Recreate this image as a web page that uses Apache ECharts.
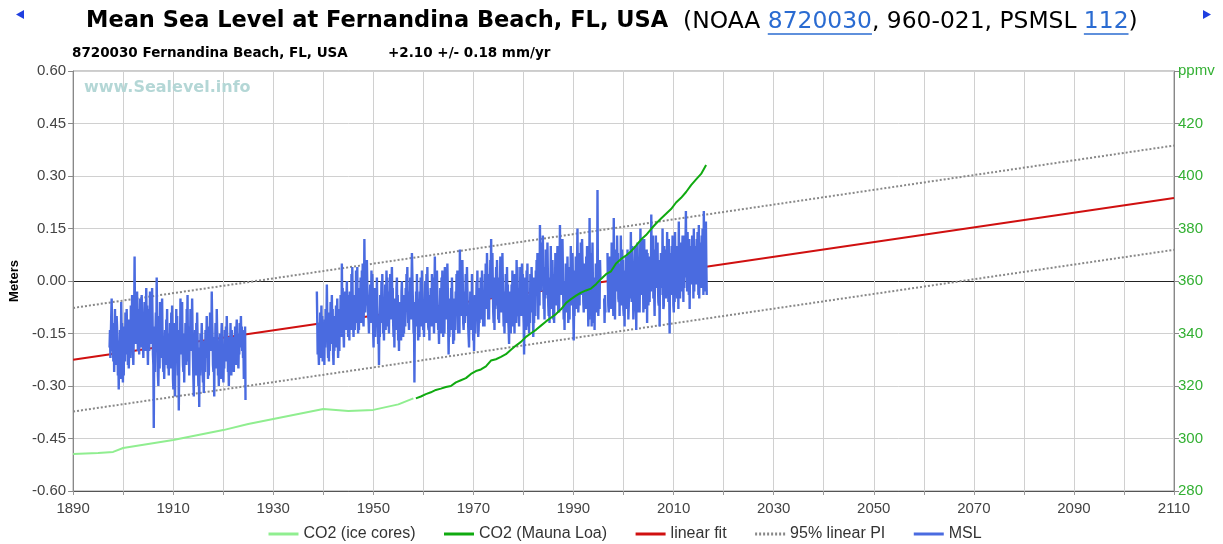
<!DOCTYPE html>
<html><head><meta charset="utf-8">
<script src="https://cdn.jsdelivr.net/npm/echarts@6/dist/echarts.min.js"></script>
<style>html,body{margin:0;padding:0;background:#fff}#c{width:1223px;height:544px}</style>
</head><body><div id="c"></div>
<script>
// ---------------- data ----------------
const co2IceYears = [1890, 1895, 1898, 1900, 1905, 1910, 1915, 1920, 1925, 1930, 1935, 1940, 1945, 1950, 1955, 1958];
const co2IceVals  = [294.1, 294.5, 294.9, 296.4, 297.9, 299.4, 301.3, 303.2, 305.5, 307.4, 309.3, 311.2, 310.5, 310.9, 313.0, 315.3];

const mloYears = [1958.5,1959.5,1960.5,1961.5,1962.5,1963.5,1964.5,1965.5,1966.5,1967.5,1968.5,1969.5,1970.5,1971.5,1972.5,1973.5,1974.5,1975.5,1976.5,1977.5,1978.5,1979.5,1980.5,1981.5,1982.5,1983.5,1984.5,1985.5,1986.5,1987.5,1988.5,1989.5,1990.5,1991.5,1992.5,1993.5,1994.5,1995.5,1996.5,1997.5,1998.5,1999.5,2000.5,2001.5,2002.5,2003.5,2004.5,2005.5,2006.5,2007.5,2008.5,2009.5,2010.5,2011.5,2012.5,2013.5,2014.5,2015.5,2016.5];
const mloVals  = [315.3,316.0,316.9,317.6,318.5,319.0,319.6,320.0,321.4,322.2,323.0,324.6,325.7,326.3,327.5,329.7,330.2,331.1,332.1,333.8,335.4,336.8,338.7,340.1,341.4,343.0,344.6,346.0,347.4,349.2,351.6,353.1,354.4,355.6,356.4,357.1,358.8,360.8,362.6,363.7,366.7,368.4,369.7,371.3,373.5,375.8,377.5,379.8,381.9,383.8,385.6,387.4,389.9,391.7,393.9,396.5,398.7,400.8,404.2];

const fitYears = [1890, 2110];
const fitVals  = [-0.225, 0.237];
const piUpperVals = [-0.077, 0.387];
const piLowerVals = [-0.373, 0.089];

// MSL monthly means (m); null = no data
const msl1Start = 1897.29;   // Apr 1897
const msl1Vals = [
 -0.19,-0.14,-0.22,-0.16,-0.10,-0.05,-0.13,-0.20,-0.17,
 -0.23,-0.12,-0.26,-0.19,-0.08,-0.21,-0.15,-0.24,-0.10,-0.13,-0.18,-0.27,
 -0.22,-0.31,-0.17,-0.25,-0.14,-0.28,-0.20,-0.06,-0.16,-0.12,-0.24,-0.29,
 -0.20,-0.27,-0.13,-0.18,-0.23,-0.09,-0.17,-0.21,-0.08,-0.14,-0.11,-0.24,
 -0.18,-0.25,-0.20,-0.11,-0.17,-0.22,-0.07,-0.15,-0.19,-0.04,-0.13,-0.21,
 -0.24,-0.16,-0.09, 0.07,-0.12,-0.18,-0.14,-0.06,-0.11,-0.03,-0.15,-0.20,
 -0.17,-0.08,-0.21,-0.13,-0.05,-0.16,-0.10,-0.19,-0.04,-0.09,-0.14,-0.18,
 -0.22,-0.11,-0.17,-0.06,-0.15,-0.20,-0.09,-0.02,-0.13,-0.07,-0.18,-0.24,
 -0.16,-0.08,-0.20,-0.12,-0.03,-0.15,-0.18,-0.07,-0.11,-0.02,-0.10,-0.21,
 -0.24,-0.42,-0.19,-0.13,-0.26,-0.15,-0.09,-0.20, 0.01,-0.12,-0.17,-0.27,
 -0.30,-0.21,-0.10,-0.25,-0.06,-0.18,-0.14,-0.22,-0.09,-0.05,-0.16,-0.23,
 -0.26,-0.18,-0.28,-0.21,-0.14,-0.24,-0.19,-0.11,-0.16,-0.08,-0.20,-0.25,
 -0.22,-0.27,-0.15,-0.20,-0.12,-0.25,-0.17,-0.09,-0.21,-0.07,-0.14,-0.28,
 -0.31,-0.19,-0.26,-0.12,-0.33,-0.17,-0.22,-0.08,-0.15,-0.10,-0.21,-0.27,
 -0.20,-0.37,-0.23,-0.14,-0.18,-0.05,-0.21,-0.16,-0.11,-0.06,-0.19,-0.24,
 -0.26,-0.15,-0.29,-0.18,-0.22,-0.12,-0.17,-0.24,-0.08,-0.14,-0.04,-0.21,
 -0.23,-0.17,-0.27,-0.13,-0.19,-0.08,-0.20,-0.11,-0.16,-0.05,-0.14,-0.22,
 -0.28,-0.33,-0.18,-0.24,-0.14,-0.21,-0.27,-0.12,-0.19,-0.09,-0.16,-0.25,
 -0.30,-0.24,-0.36,-0.19,-0.27,-0.15,-0.23,-0.20,-0.12,-0.17,-0.26,-0.29,
 -0.25,-0.32,-0.21,-0.17,-0.26,-0.14,-0.22,-0.18,-0.10,-0.15,-0.19,-0.28,
 -0.22,-0.27,-0.13,-0.19,-0.09,-0.18,-0.14,-0.20,-0.03,-0.11,-0.16,-0.24,
 -0.26,-0.20,-0.33,-0.16,-0.22,-0.12,-0.19,-0.25,-0.08,-0.14,-0.17,-0.27,
 -0.24,-0.30,-0.18,-0.26,-0.15,-0.22,-0.28,-0.16,-0.12,-0.19,-0.21,-0.27,
 -0.29,-0.21,-0.25,-0.14,-0.19,-0.23,-0.13,-0.20,-0.10,-0.15,-0.18,-0.26,
 -0.23,-0.30,-0.20,-0.16,-0.24,-0.12,-0.21,-0.27,-0.14,-0.17,-0.22,-0.25,
 -0.21,-0.26,-0.16,-0.22,-0.13,-0.19,-0.24,-0.14,-0.11,-0.18,-0.15,-0.23,
 -0.25,-0.18,-0.21,-0.12,-0.19,-0.15,-0.10,-0.17,-0.13,-0.20,-0.14,-0.22,
 -0.19,-0.28,-0.15,-0.21,-0.13,-0.34
];
const msl2Start = 1938.71;   // Sep 1938
const msl2Vals = [
 -0.03,-0.11,-0.21,-0.15,
 -0.20,-0.24,-0.12,-0.18,-0.09,-0.22,-0.14,-0.07,-0.17,-0.10,-0.23,-0.16,
 -0.21,-0.15,-0.24,-0.11,-0.19,-0.08,-0.16,-0.13,-0.01,-0.10,-0.18,-0.22,
 -0.17,-0.23,-0.09,-0.20,-0.14,-0.06,-0.18,-0.11,-0.04,-0.13,-0.08,-0.21,
 -0.24,-0.16,-0.20,-0.10,-0.18,-0.13,-0.07,-0.19,-0.11,-0.05,-0.15,-0.22,
 -0.18,-0.12,-0.20,-0.08,-0.14,-0.04,-0.11,-0.16, 0.05,-0.07,-0.02,-0.13,
 -0.15,-0.19,-0.06,-0.12,-0.03,-0.10,-0.14,-0.05, 0.00,-0.09,-0.04,-0.16,
 -0.13,-0.08,-0.17,-0.03,-0.11,-0.06,-0.14, 0.02,-0.08, 0.04,-0.05,-0.12,
 -0.16,-0.10,-0.04,-0.14,-0.07,-0.12, 0.03,-0.09,-0.02, 0.04,-0.11,-0.15,
 -0.09,-0.14,-0.02,-0.10,-0.05, 0.01,-0.08,-0.12, 0.03,-0.03, 0.05,-0.11,
 -0.13,-0.06, 0.12,-0.02,-0.09,-0.04, 0.02,-0.07, 0.06,-0.01,-0.05,-0.10,
 -0.11,-0.15,-0.04,-0.09,-0.01,-0.12,-0.06, 0.03,-0.08, 0.02,-0.03,-0.14,
 -0.19,-0.08,-0.13,-0.02,-0.16,-0.10,-0.05,-0.12, 0.01,-0.07,-0.11,-0.18,
 -0.14,-0.24,-0.10,-0.16,-0.04,-0.12,-0.08, 0.00,-0.09, 0.02,-0.06,-0.15,
 -0.12,-0.17,-0.05,-0.10,-0.01,-0.14,-0.07, 0.03,-0.04, 0.01,-0.09,-0.13,
 -0.10,-0.15,-0.03,-0.08, 0.02,-0.11,-0.06,-0.01, 0.04,-0.05,-0.02,-0.12,
 -0.16,-0.09,-0.19,-0.05,-0.12,-0.07,-0.14,-0.02, 0.01,-0.10,-0.04,-0.17,
 -0.13,-0.20,-0.08,-0.15,-0.06,-0.11,-0.17,-0.03, 0.00,-0.09,-0.05,-0.16,
 -0.11,-0.15,-0.04,-0.09,-0.13,-0.02,-0.07, 0.02,-0.05, 0.04,-0.08,-0.12,
 -0.10,-0.14,-0.03,-0.08, 0.01,-0.06,-0.11,-0.01, 0.08, 0.02,-0.04,-0.09,
 -0.15,-0.10,-0.29,-0.12,-0.06,-0.13,-0.03,-0.08, 0.02,-0.05,-0.11,-0.17,
 -0.12,-0.08,-0.16,-0.03,-0.10, 0.01,-0.06,-0.13, 0.03,-0.02,-0.07,-0.14,
 -0.11,-0.16,-0.06,-0.09, 0.00,-0.12,-0.04, 0.02,-0.08, 0.04,-0.03,-0.13,
 -0.14,-0.09,-0.17,-0.04,-0.11,-0.02,-0.08,-0.13, 0.02,-0.05, 0.01,-0.12,
 -0.10,-0.15,-0.03, 0.07,-0.08,-0.12,-0.01,-0.06, 0.03,-0.04,-0.09,-0.14,
 -0.13,-0.18,-0.07,-0.11,-0.02,-0.15,-0.09, 0.01,-0.05, 0.03,-0.10,-0.16,
 -0.12,-0.07,-0.15, 0.04,-0.09,-0.03,-0.11, 0.02,-0.06, 0.05,-0.02,-0.13,
 -0.21,-0.12,-0.16,-0.05,-0.10,-0.14,-0.02,-0.09, 0.01,-0.06,-0.11,-0.18,
 -0.13,-0.17,-0.05,-0.10,-0.14,-0.03,-0.08, 0.02,-0.05, 0.03,-0.09,-0.15,
 -0.11,-0.06,-0.15, 0.09,-0.07,-0.02,-0.10, 0.01,-0.04, 0.06,-0.01,-0.12,
 -0.14,-0.09,-0.03,-0.12,-0.06, 0.02,-0.10,-0.04, 0.04,-0.02,-0.08,-0.13,
 -0.16,-0.19,-0.08,-0.12,-0.03,-0.14,-0.06,-0.10, 0.02,-0.04,-0.09,-0.17,
 -0.13,-0.20,-0.09,-0.04,-0.15,-0.07,-0.11, 0.00,-0.06, 0.03,-0.10,-0.16,
 -0.14,-0.08,-0.12,-0.02,-0.09, 0.01,-0.06,-0.11, 0.03,-0.03,-0.07,-0.13,
 -0.10,-0.05,-0.13, 0.02,-0.07, 0.05,-0.03,-0.08, 0.08, 0.01,-0.04,-0.11,
 -0.07,-0.11, 0.02,-0.04, 0.06,-0.02, 0.12,-0.05, 0.03, 0.08,-0.01,-0.09,
 -0.12,-0.06,-0.14, 0.01,-0.08,-0.03, 0.04,-0.07, 0.06,-0.01,-0.05,-0.11,
 -0.08,-0.12, 0.01,-0.05, 0.07,-0.03,-0.09, 0.03,-0.02, 0.08, 0.00,-0.07,
 -0.13,-0.08,-0.15,-0.03,-0.10, 0.02,-0.06,-0.12, 0.04,-0.04,-0.01,-0.11,
 -0.14,-0.18,-0.06,-0.12,-0.03,-0.15,-0.08,-0.01,-0.10, 0.03,-0.05,-0.13,
 -0.11,-0.07,-0.15, 0.02,-0.08,-0.03,-0.12, 0.06,-0.02, 0.04,-0.06,-0.10,
 -0.09,-0.13,-0.02,-0.07, 0.04,-0.05,-0.10, 0.01, 0.05,-0.03, 0.02,-0.08,
 -0.12,-0.21,-0.06,-0.10, 0.01,-0.08,-0.14, 0.03,-0.04, 0.05,-0.07,-0.13,
 -0.10,-0.15,-0.04,-0.12, 0.02,-0.07,-0.09, 0.04,-0.03, 0.01,-0.08,-0.16,
 -0.09,-0.12, 0.01,-0.06,-0.10, 0.03,-0.04, 0.06,-0.01, 0.08,-0.02,-0.11,
 -0.04, 0.06,-0.07, 0.16, 0.02,-0.03, 0.08, 0.00, 0.11, 0.05, 0.13,-0.02,
 -0.08,-0.03,-0.11, 0.04,-0.05, 0.09,-0.01, 0.06,-0.04, 0.11, 0.02,-0.07,
 -0.10,-0.05,-0.12, 0.01,-0.07, 0.10,-0.03, 0.04,-0.08, 0.06,-0.01,-0.11,
 -0.06,-0.12, 0.02,-0.04, 0.08,-0.02, 0.05,-0.07, 0.03, 0.10,-0.01,-0.09,
 -0.05,-0.09, 0.03, 0.16,-0.02, 0.06,-0.04, 0.09, 0.01, 0.12, 0.04,-0.06,
 -0.11,-0.06,-0.14, 0.00,-0.08, 0.05,-0.04, 0.02,-0.09, 0.07,-0.02,-0.12,
 -0.08,-0.03,-0.11, 0.04,-0.06, 0.10,-0.02, 0.05,-0.07, 0.08, 0.01,-0.10,
 -0.17,-0.06,-0.10, 0.03,-0.04, 0.07,-0.08, 0.02, 0.06, 0.15,-0.01,-0.09,
 -0.05, 0.04,-0.07, 0.08,-0.02, 0.11, 0.01,-0.04, 0.12, 0.06, 0.03,-0.06,
 -0.09,-0.03, 0.05,-0.06, 0.02,-0.08, 0.07,-0.01, 0.10, 0.04,-0.04,-0.13,
 -0.07,-0.11, 0.18,-0.03, 0.04,-0.05, 0.08,-0.13, 0.02, 0.11,-0.01,-0.08,
 -0.12,-0.04,-0.14, 0.01,-0.07, 0.05,-0.03, 0.03,-0.09, 0.26, 0.02,-0.10,
 -0.05, 0.03,-0.08, 0.06, 0.01, null, null, null, null, null, null, null,
  null,-0.05,-0.12,-0.04,-0.09, null, null, null, null, 0.08,-0.02,-0.07,
 -0.09, 0.02,-0.05, 0.07,-0.03, 0.04,-0.08, 0.11, 0.00, 0.06,-0.04,-0.10,
  0.18,-0.02, 0.05,-0.11, 0.07, 0.01, 0.09,-0.03, 0.13, 0.04, 0.08,-0.05,
 -0.06, 0.02,-0.10, 0.05,-0.03, 0.13, 0.00,-0.07, 0.09, 0.03, 0.06,-0.08,
 -0.10,-0.04,-0.13, 0.03,-0.06, 0.07,-0.02, 0.04,-0.08, 0.09, 0.00,-0.11,
 -0.07, 0.03,-0.05, 0.08,-0.02, 0.14, 0.01,-0.06, 0.10, 0.05,-0.01,-0.11,
 -0.08, 0.04,-0.03, 0.10,-0.06, 0.02,-0.14, 0.06, 0.00, 0.11, 0.03,-0.09,
 -0.05, 0.06,-0.09, 0.03, 0.15,-0.02, 0.07, 0.01,-0.04, 0.12, 0.04,-0.09,
 -0.06, 0.12,-0.04, 0.05,-0.08, 0.02,-0.02, 0.09,-0.12, 0.08, 0.03,-0.07,
 -0.04, 0.04,-0.06, 0.07, 0.01,-0.03, 0.19, 0.05, 0.10, 0.02, 0.13,-0.05,
  0.09,-0.04,-0.10, 0.06, 0.01, 0.13,-0.02, 0.08, 0.03, 0.11,-0.01,-0.06,
 -0.07, 0.06,-0.13, 0.03,-0.04, 0.08, 0.00, 0.05,-0.02, 0.15, 0.04,-0.08,
 -0.07, 0.10,-0.04, 0.06, 0.02,-0.05, 0.09, 0.01, 0.14, 0.04, 0.07,-0.06,
  0.12,-0.03,-0.15, 0.04,-0.01, 0.08, 0.02, 0.10,-0.04, 0.13, 0.05,-0.07,
 -0.09, 0.03,-0.06, 0.14,-0.02, 0.05, 0.00, 0.07,-0.05, 0.10, 0.02,-0.08,
  0.17,-0.02, 0.06,-0.05, 0.09, 0.01, 0.11,-0.03, 0.08, 0.13, 0.04,-0.06,
  0.13,-0.02, 0.07, 0.01, 0.10, 0.20, 0.04, 0.09,-0.03, 0.14, 0.06, 0.00,
 -0.04, 0.12,-0.08, 0.07, 0.02, 0.10,-0.01, 0.05, 0.13, 0.03, 0.09,-0.05,
  0.15,-0.03, 0.08, 0.02, 0.10,-0.01, 0.06, 0.12, 0.03, 0.14, 0.05,-0.04,
  0.16,-0.05, 0.08, 0.02, 0.11,-0.02, 0.07, 0.13, 0.04, 0.15, 0.06,-0.04,
  0.20, 0.03, 0.14,-0.03, 0.10, 0.17, 0.05,-0.04
];

const titleBold = 'Mean Sea Level at Fernandina Beach, FL, USA';
const titleParts = ['  (NOAA ', '8720030', ', 960-021, PSMSL ', '112', ')'];
const subLeft = '8720030 Fernandina Beach, FL, USA';
const subRight = '+2.10 +/- 0.18 mm/yr';
const watermark = 'www.Sealevel.info';
const legendNames = ['CO2 (ice cores)', 'CO2 (Mauna Loa)', 'linear fit', '95% linear PI', 'MSL'];

// ---------------- build ----------------
const zip = (xs, ys) => xs.map((x, i) => [x, ys[i]]);
const mslData = [];
msl1Vals.forEach((v, i) => mslData.push([msl1Start + i / 12, v === null ? '-' : v]));
mslData.push([1931, '-']);
msl2Vals.forEach((v, i) => mslData.push([msl2Start + i / 12, v === null ? '-' : v]));

const ctx = document.createElement('canvas').getContext('2d');
const tw = (font, s) => { ctx.font = font; return ctx.measureText(s).width; };
const TF = '"DejaVu Sans"';
const bSize = 22.5, nSize = 23.4;
const fB = 'bold ' + bSize + 'px ' + TF, fN = 'normal ' + nSize + 'px ' + TF;
const tLeft = 86;
let ux = tLeft + tw(fB, titleBold) + tw(fN, titleParts[0]);
const u1 = [ux, ux + tw(fN, titleParts[1])];
ux = u1[1] + tw(fN, titleParts[2]);
const u2 = [ux, ux + tw(fN, titleParts[3])];
const uY = 34;

const axisFont = 'Liberation Sans';
const ySplitColors = ['#d0d0d0','#d0d0d0','#d0d0d0','#d0d0d0','#222','#d0d0d0','#d0d0d0','#d0d0d0','#d0d0d0'];
const linkColor = '#2a6bd1';

const chart = echarts.init(document.getElementById('c'), null, {renderer: 'canvas'});
chart.setOption({
  animation: false,
  backgroundColor: '#fff',
  title: [{
    text: '{b|' + titleBold + '}{n|' + titleParts[0] + '}{l|' + titleParts[1] + '}{n|' + titleParts[2] + '}{l|' + titleParts[3] + '}{n|' + titleParts[4] + '}',
    left: tLeft, top: 10, padding: 0,
    textStyle: { rich: {
      b: { fontFamily: TF, fontWeight: 'bold', fontSize: bSize, color: '#000' },
      n: { fontFamily: TF, fontWeight: 'normal', fontSize: nSize, color: '#000' },
      l: { fontFamily: TF, fontWeight: 'normal', fontSize: nSize, color: linkColor }
    }}
  }, {
    text: subLeft, left: 72, top: 46, padding: 0,
    textStyle: { fontFamily: TF, fontWeight: 'bold', fontSize: 13.5, color: '#000' }
  }, {
    text: subRight, left: 388, top: 46, padding: 0,
    textStyle: { fontFamily: TF, fontWeight: 'bold', fontSize: 13.5, color: '#000' }
  }, {
    text: watermark, left: 84, top: 80, padding: 0,
    textStyle: { fontFamily: TF, fontWeight: 'bold', fontSize: 16, color: '#b4d7d6' }
  }],
  graphic: [
    { type: 'polygon', shape: { points: [[24, 10], [24, 19], [16, 14.5]] }, style: { fill: '#1f3fe0' } },
    { type: 'polygon', shape: { points: [[1203, 10], [1203, 19], [1211, 14.5]] }, style: { fill: '#1f3fe0' } },
    { type: 'line', shape: { x1: u1[0], y1: uY, x2: u1[1], y2: uY }, style: { stroke: linkColor, lineWidth: 1.3 } },
    { type: 'line', shape: { x1: u2[0], y1: uY, x2: u2[1], y2: uY }, style: { stroke: linkColor, lineWidth: 1.3 } }
  ],
  legend: {
    data: legendNames,
    left: 262, top: 521,
    itemWidth: 30, itemHeight: 12, itemGap: 27,
    itemStyle: { opacity: 0 },
    lineStyle: { width: 3 },
    textStyle: { fontFamily: axisFont, fontSize: 16, color: '#333' }
  },
  grid: { left: 72, right: 49, top: 71, bottom: 53, show: true, borderColor: '#999', borderWidth: 1, backgroundColor: 'transparent' },
  xAxis: {
    type: 'value', min: 1890, max: 2110, interval: 10,
    axisLine: { show: true, onZero: false, lineStyle: { color: '#555' } },
    axisTick: { show: true, length: 4, lineStyle: { color: '#999' } },
    splitLine: { show: true, lineStyle: { color: '#d0d0d0', width: 1 } },
    axisLabel: { fontFamily: axisFont, fontSize: 15, color: '#444', margin: 10,
      formatter: v => ((v - 1890) % 20 === 0 ? String(v) : '') }
  },
  yAxis: [{
    type: 'value', min: -0.6, max: 0.6, interval: 0.15,
    name: 'Meters', nameLocation: 'middle', nameGap: 43, nameRotate: 90,
    nameTextStyle: { fontFamily: axisFont, fontWeight: 'bold', fontSize: 13, color: '#000' },
    axisLine: { show: true, lineStyle: { color: '#888' } },
    axisTick: { show: true, length: 5, lineStyle: { color: '#888' } },
    splitLine: { show: true, lineStyle: { color: ySplitColors, width: 1 } },
    axisLabel: { fontFamily: axisFont, fontSize: 15, color: '#444', margin: 7, formatter: v => v.toFixed(2) }
  }, {
    type: 'value', min: 280, max: 440, interval: 20, position: 'right',
    axisLine: { show: true, lineStyle: { color: '#888' } },
    axisTick: { show: true, length: 5, lineStyle: { color: '#888' } },
    splitLine: { show: false },
    axisLabel: { fontFamily: axisFont, fontSize: 15, color: '#33b033', margin: 4, formatter: v => (v === 440 ? 'ppmv' : String(v)) }
  }],
  series: [
    { name: 'linear fit', type: 'line', yAxisIndex: 0, data: zip(fitYears, fitVals), symbol: 'none',
      lineStyle: { color: '#d01010', width: 2 }, itemStyle: { color: '#d01010' }, z: 2 },
    { name: '95% linear PI', type: 'line', yAxisIndex: 0, data: zip(fitYears, piUpperVals), symbol: 'none',
      lineStyle: { color: '#888', width: 2, type: [2, 2] }, itemStyle: { color: '#888' }, z: 2 },
    { name: '95% linear PI', type: 'line', yAxisIndex: 0, data: zip(fitYears, piLowerVals), symbol: 'none',
      lineStyle: { color: '#888', width: 2, type: [2, 2] }, itemStyle: { color: '#888' }, z: 2 },
    { name: 'MSL', type: 'line', yAxisIndex: 0, data: mslData, symbol: 'none', connectNulls: false,
      lineStyle: { color: '#4a6be0', width: 2.4 }, itemStyle: { color: '#4a6be0' }, z: 3 },
    { name: 'CO2 (ice cores)', type: 'line', yAxisIndex: 1, data: zip(co2IceYears, co2IceVals), symbol: 'none',
      lineStyle: { color: '#90ee90', width: 2 }, itemStyle: { color: '#90ee90' }, z: 4 },
    { name: 'CO2 (Mauna Loa)', type: 'line', yAxisIndex: 1, data: zip(mloYears, mloVals), symbol: 'none',
      lineStyle: { color: '#10aa10', width: 2 }, itemStyle: { color: '#10aa10' }, z: 4 }
  ]
});
</script></body></html>
